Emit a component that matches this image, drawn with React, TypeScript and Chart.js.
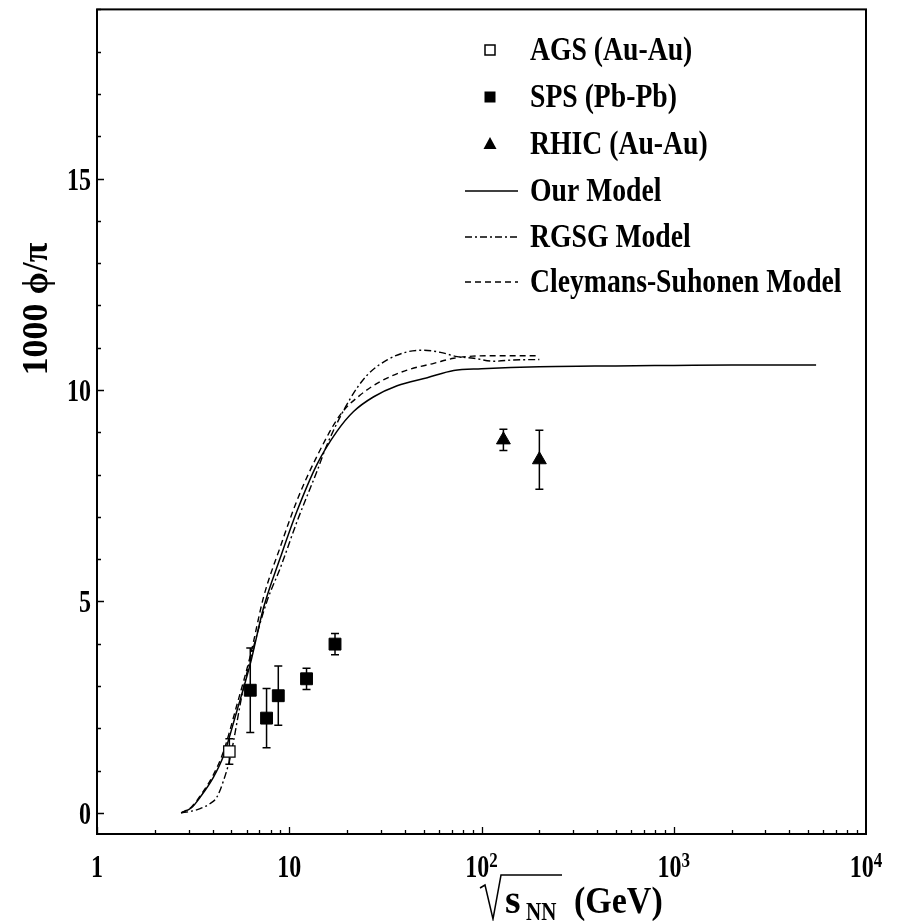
import React, { useEffect, useRef } from "react";
import { Chart, registerables } from "chart.js";

Chart.register(...registerables);

const W = 900;
const H = 921;

// ---- data ----
const ourModelX = [2.74, 3.1, 3.44, 4.03, 4.55, 5.34, 6.26, 7.35, 8.98, 10.96, 13.9, 17.7, 21.6, 27.5, 36.4, 52.2, 71.7, 100, 200, 500, 1000, 2000, 5500];
const ourModelY = [0.0, 0.12, 0.37, 0.84, 1.35, 2.41, 3.51, 4.85, 6.03, 7.13, 8.23, 9.02, 9.49, 9.84, 10.1, 10.29, 10.46, 10.5, 10.55, 10.57, 10.58, 10.59, 10.59];

const rgsgX = [2.74, 3.1, 3.44, 3.88, 4.2, 4.55, 4.93, 5.78, 6.5, 7.65, 9.0, 11.0, 14.0, 15.7, 20.8, 25.4, 32.3, 41.0, 50.1, 61.1, 74.7, 91.2, 116, 147, 200];
const rgsgY = [0.0, 0.04, 0.1, 0.22, 0.37, 0.76, 1.31, 2.96, 3.9, 5.0, 5.8, 6.9, 8.1, 8.7, 9.8, 10.35, 10.71, 10.9, 10.94, 10.89, 10.79, 10.75, 10.68, 10.71, 10.72];

const csX = [2.74, 3.1, 3.44, 4.03, 4.55, 5.34, 6.26, 7.35, 9.0, 11.0, 14.0, 18.4, 23.4, 29.8, 41, 56.5, 71.7, 90, 120, 200];
const csY = [0.0, 0.14, 0.4, 0.9, 1.45, 2.55, 3.7, 5.1, 6.3, 7.4, 8.45, 9.41, 9.88, 10.2, 10.47, 10.63, 10.75, 10.8, 10.81, 10.81];

const agsX = [4.88];
const agsY = [1.45];
const agsErr = [0.3];

const spsX = [6.27, 7.62, 8.77, 12.3, 17.3];
const spsY = [2.9, 2.24, 2.77, 3.17, 3.99];
const spsErr = [1.0, 0.7, 0.7, 0.25, 0.25];

const rhicX = [130, 200];
const rhicY = [8.82, 8.35];
const rhicErr = [0.25, 0.7];

const xTickValues = [1, 10, 100, 1000, 10000];
const xTickBase = ["1", "10", "10", "10", "10"];
const xTickExp = ["", "", "2", "3", "4"];
const yTickValues = [0, 5, 10, 15];
const yTickLabels = ["0", "5", "10", "15"];

const legendLabels = ["AGS (Au-Au)", "SPS (Pb-Pb)", "RHIC (Au-Au)", "Our Model", "RGSG Model", "Cleymans-Suhonen Model"];

const SERIF = "'Liberation Serif','Times New Roman','DejaVu Serif',serif";
const DASH_DOT = [7, 3, 2, 3];
const DASHED = [6, 4];

function pts(xs: number[], ys: number[]) {
  return xs.map((x, i) => ({ x, y: ys[i] }));
}

function sText(ctx: CanvasRenderingContext2D, text: string, x: number, y: number, size: number, align: CanvasTextAlign, sy: number) {
  ctx.save();
  ctx.font = `bold ${size}px ${SERIF}`;
  ctx.textAlign = align;
  ctx.textBaseline = "alphabetic";
  ctx.translate(x, y);
  ctx.scale(1, sy);
  ctx.fillText(text, 0, 0);
  ctx.restore();
}

function textW(ctx: CanvasRenderingContext2D, text: string, size: number) {
  ctx.save();
  ctx.font = `bold ${size}px ${SERIF}`;
  const w = ctx.measureText(text).width;
  ctx.restore();
  return w;
}

const errorSets = [
  { xs: agsX, ys: agsY, errs: agsErr },
  { xs: spsX, ys: spsY, errs: spsErr },
  { xs: rhicX, ys: rhicY, errs: rhicErr },
];

const errorBarPlugin = {
  id: "errorBars",
  beforeDatasetsDraw(chart: any) {
    const { ctx, scales } = chart;
    const xs = scales.x, ys = scales.y;
    ctx.save();
    ctx.strokeStyle = "#000";
    ctx.lineWidth = 1.5;
    for (const set of errorSets) {
      set.xs.forEach((x, i) => {
        const px = xs.getPixelForValue(x);
        const top = ys.getPixelForValue(set.ys[i] + set.errs[i]);
        const bot = ys.getPixelForValue(set.ys[i] - set.errs[i]);
        ctx.beginPath();
        ctx.moveTo(px, top);
        ctx.lineTo(px, bot);
        ctx.moveTo(px - 4, top);
        ctx.lineTo(px + 4, top);
        ctx.moveTo(px - 4, bot);
        ctx.lineTo(px + 4, bot);
        ctx.stroke();
      });
    }
    ctx.restore();
  },
};

const framePlugin = {
  id: "frameAndLabels",
  afterDraw(chart: any) {
    const { ctx, chartArea: a, scales } = chart;
    const xs = scales.x, ys = scales.y;
    ctx.save();
    ctx.strokeStyle = "#000";
    ctx.fillStyle = "#000";
    ctx.lineWidth = 2;
    ctx.strokeRect(a.left, a.top, a.right - a.left, a.bottom - a.top);

    // ticks (inward)
    ctx.lineWidth = 1.3;
    ctx.beginPath();
    for (let d = 0; d < 4; d++) {
      for (let m = 1; m <= 9; m++) {
        const v = m * Math.pow(10, d);
        const px = Math.round(xs.getPixelForValue(v)) + 0.5;
        const len = m === 1 ? 7 : 4;
        ctx.moveTo(px, a.bottom);
        ctx.lineTo(px, a.bottom - len);
      }
    }
    for (let v = 0; v <= 19; v++) {
      const py = Math.round(ys.getPixelForValue(v)) + 0.5;
      const len = v % 5 === 0 ? 7 : 4;
      ctx.moveTo(a.left, py);
      ctx.lineTo(a.left + len, py);
    }
    ctx.stroke();

    // x tick labels
    const fs = 24, sy = 1.3;
    xTickValues.forEach((v, i) => {
      const px = xs.getPixelForValue(v);
      const base = xTickBase[i];
      const exp = xTickExp[i];
      const wb = textW(ctx, base, fs);
      const we = exp ? textW(ctx, exp, 17) : 0;
      const start = px - (wb + we) / 2;
      sText(ctx, base, start, 877, fs, "left", sy);
      if (exp) sText(ctx, exp, start + wb, 867, 17, "left", 1.2);
    });

    // y tick labels
    yTickValues.forEach((v, i) => {
      const py = ys.getPixelForValue(v);
      sText(ctx, yTickLabels[i], 91, py + 11, fs, "right", sy);
    });

    // y title
    ctx.save();
    ctx.translate(47, 309);
    ctx.rotate(-Math.PI / 2);
    ctx.font = `bold 36px ${SERIF}`;
    ctx.textAlign = "center";
    ctx.textBaseline = "alphabetic";
    ctx.fillText("1000 \u03D5/\u03C0", 0, 0);
    ctx.restore();

    // x title: sqrt(s_NN) (GeV)
    ctx.lineWidth = 1.5;
    ctx.beginPath();
    ctx.moveTo(480, 888);
    ctx.lineTo(485, 885);
    ctx.lineTo(493, 919);
    ctx.lineTo(501, 875);
    ctx.lineTo(562, 875);
    ctx.stroke();
    sText(ctx, "s", 505, 913, 40, "left", 1.0);
    sText(ctx, "NN", 526, 920, 21, "left", 1.2);
    sText(ctx, "(GeV)", 574, 913, 34, "left", 1.1);

    // legend
    const rows = [50, 97, 144, 191, 237, 282];
    const mx = 490;
    ctx.lineWidth = 1.5;
    // AGS open square
    ctx.fillStyle = "#fff";
    ctx.fillRect(mx - 5, rows[0] - 5, 10, 10);
    ctx.strokeRect(mx - 5, rows[0] - 5, 10, 10);
    ctx.fillStyle = "#000";
    // SPS filled square
    ctx.fillRect(mx - 5.5, rows[1] - 5.5, 11, 11);
    // RHIC triangle
    ctx.beginPath();
    ctx.moveTo(mx, rows[2] - 7);
    ctx.lineTo(mx + 6.5, rows[2] + 5);
    ctx.lineTo(mx - 6.5, rows[2] + 5);
    ctx.closePath();
    ctx.fill();
    // lines
    const lineDash = [[], DASH_DOT, DASHED];
    for (let k = 0; k < 3; k++) {
      ctx.setLineDash(lineDash[k]);
      ctx.beginPath();
      ctx.moveTo(465, rows[3 + k]);
      ctx.lineTo(518, rows[3 + k]);
      ctx.stroke();
    }
    ctx.setLineDash([]);
    legendLabels.forEach((t, i) => {
      sText(ctx, t, 530, rows[i] + 10, 27.7, "left", 1.22);
    });
    ctx.restore();
  },
};

const bgPlugin = {
  id: "bg",
  beforeDraw(chart: any) {
    const ctx = chart.ctx;
    ctx.save();
    ctx.fillStyle = "#fff";
    ctx.fillRect(0, 0, chart.width, chart.height);
    ctx.restore();
  },
};

export default function App() {
  const ref = useRef<HTMLCanvasElement | null>(null);
  useEffect(() => {
    if (!ref.current) return;
    const chart = new Chart(ref.current, {
      type: "scatter",
      data: {
        datasets: [
          {
            label: "AGS (Au-Au)",
            data: pts(agsX, agsY),
            pointStyle: "rect",
            pointRadius: 8,
            backgroundColor: "#fff",
            borderColor: "#000",
            borderWidth: 1.3,
            showLine: false,
          },
          {
            label: "SPS (Pb-Pb)",
            data: pts(spsX, spsY),
            pointStyle: "rect",
            pointRadius: 8.4,
            backgroundColor: "#000",
            borderColor: "#000",
            borderWidth: 1,
            showLine: false,
          },
          {
            label: "RHIC (Au-Au)",
            data: pts(rhicX, rhicY),
            pointStyle: "triangle",
            pointRadius: 8,
            backgroundColor: "#000",
            borderColor: "#000",
            borderWidth: 1,
            showLine: false,
          },
          {
            label: "Our Model",
            data: pts(ourModelX, ourModelY),
            showLine: true,
            borderColor: "#000",
            borderWidth: 1.5,
            pointRadius: 0,
            fill: false,
            cubicInterpolationMode: "monotone",
          },
          {
            label: "RGSG Model",
            data: pts(rgsgX, rgsgY),
            showLine: true,
            borderColor: "#000",
            borderWidth: 1.4,
            borderDash: DASH_DOT,
            pointRadius: 0,
            fill: false,
            cubicInterpolationMode: "monotone",
          },
          {
            label: "Cleymans-Suhonen Model",
            data: pts(csX, csY),
            showLine: true,
            borderColor: "#000",
            borderWidth: 1.4,
            borderDash: DASHED,
            pointRadius: 0,
            fill: false,
            cubicInterpolationMode: "monotone",
          },
        ],
      },
      options: {
        animation: false,
        responsive: false,
        maintainAspectRatio: false,
        layout: { padding: { left: 97, right: 34, top: 6, bottom: 87 } },
        plugins: { legend: { display: false }, tooltip: { enabled: false } },
        scales: {
          x: { type: "logarithmic", min: 1, max: 10000, display: false },
          y: { type: "linear", min: -0.5, max: 19, display: false },
        },
      },
      plugins: [bgPlugin, errorBarPlugin, framePlugin],
    } as any);
    return () => chart.destroy();
  }, []);

  return (
    <div style={{ position: "fixed", left: 0, top: 0, width: W, height: H, background: "#fff" }}>
      <canvas ref={ref} width={W} height={H} style={{ width: W, height: H, display: "block" }} />
    </div>
  );
}
